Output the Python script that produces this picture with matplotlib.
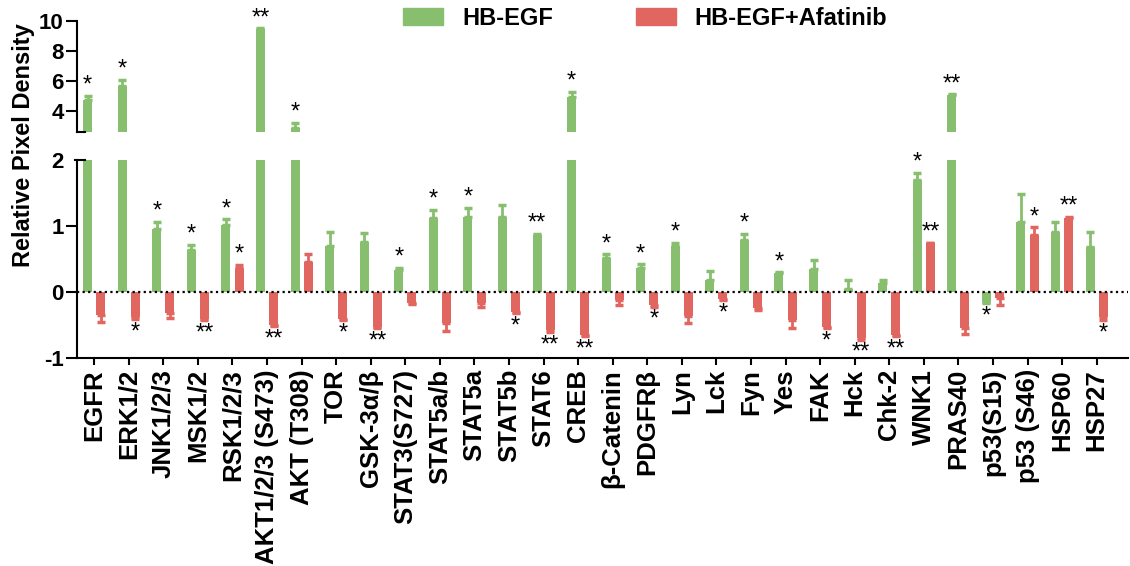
import numpy as np
import matplotlib
matplotlib.use('Agg')
import matplotlib.pyplot as plt
from matplotlib.patches import Patch

plt.rcParams['font.family'] = ['Liberation Sans', 'DejaVu Sans']

cats = ['EGFR', 'ERK1/2', 'JNK1/2/3', 'MSK1/2', 'RSK1/2/3', 'AKT1/2/3 (S473)', 'AKT (T308)', 'TOR',
        'GSK-3α/β', 'STAT3(S727)', 'STAT5a/b', 'STAT5a', 'STAT5b', 'STAT6', 'CREB', 'β-Catenin',
        'PDGFRβ', 'Lyn', 'Lck', 'Fyn', 'Yes', 'FAK', 'Hck', 'Chk-2', 'WNK1', 'PRAS40',
        'p53(S15)', 'p53 (S46)', 'HSP60', 'HSP27']

hb = [4.73, 5.67, 0.95, 0.64, 1.01, 9.47, 2.87, 0.70, 0.76, 0.33, 1.12, 1.14, 1.14, 0.86, 4.93,
      0.51, 0.36, 0.70, 0.18, 0.79, 0.29, 0.35, 0.04, 0.13, 1.70, 5.07, -0.15, 1.06, 0.91, 0.68]
hb_err = [0.30, 0.40, 0.11, 0.07, 0.09, 0.05, 0.33, 0.21, 0.13, 0.04, 0.12, 0.14, 0.18, 0.02, 0.34,
          0.06, 0.06, 0.05, 0.14, 0.09, 0.01, 0.13, 0.14, 0.05, 0.11, 0.03, 0.02, 0.42, 0.15, 0.23]
afa = [-0.35, -0.38, -0.32, -0.41, 0.36, -0.50, 0.45, -0.41, -0.53, -0.17, -0.47, -0.16, -0.30, -0.58, -0.65,
       -0.12, -0.20, -0.37, -0.10, -0.25, -0.42, -0.53, -0.70, -0.65, 0.74, -0.55, -0.09, 0.86, 1.12, -0.38]
afa_err = [0.10, 0.03, 0.07, 0.02, 0.05, 0.02, 0.13, 0.02, 0.02, 0.01, 0.12, 0.06, 0.02, 0.02, 0.02,
           0.08, 0.02, 0.10, 0.02, 0.02, 0.13, 0.02, 0.02, 0.02, 0.01, 0.09, 0.11, 0.12, 0.02, 0.05]

hb_sig = ['*', '*', '*', '*', '*', '**', '*', '', '', '*', '*', '*', '', '**', '*',
          '*', '*', '*', '', '*', '*', '', '', '', '*', '**', '*', '', '', '']
afa_sig = ['', '*', '', '**', '*', '**', '', '*', '**', '', '', '', '*', '**', '**',
           '', '*', '', '*', '', '', '*', '**', '**', '**', '', '', '*', '**', '*']

green = '#87BF6E'
red = '#E0665F'

fig = plt.figure(figsize=(11.3, 5.66), dpi=100)
ax_lo = fig.add_axes([0.0681, 0.3675, 0.9299, 0.3498])
ax_hi = fig.add_axes([0.0681, 0.7668, 0.9299, 0.1961])

x = np.arange(len(cats))
off = 0.19
w = 0.26


def draw(ax, vals, errs, pos, color):
    vals = np.array(vals)
    errs = np.array(errs)
    ax.bar(pos, vals, width=w, color=color, zorder=2)
    lower = np.where(vals < 0, errs, 0)
    upper = np.where(vals >= 0, errs, 0)
    ax.errorbar(pos, vals, yerr=[lower, upper], fmt='none', ecolor=color,
                elinewidth=2, capsize=3, capthick=2.5, zorder=2)


for ax in (ax_lo, ax_hi):
    draw(ax, hb, hb_err, x - off, green)
    draw(ax, afa, afa_err, x + off, red)
    ax.set_xlim(-0.5, 29.9)
    for s in ['top', 'right']:
        ax.spines[s].set_visible(False)
    ax.spines['left'].set_linewidth(1.5)
    ax.tick_params(axis='y', length=8, width=1.5, pad=1.5)

ax_lo.axhline(0, color='black', ls=(0, (1, 1.5)), lw=1.6, zorder=5)
ax_lo.set_ylim(-1, 2)
ax_lo.set_yticks([-1, 0, 1, 2])
ax_lo.set_yticklabels(['-1', '0', '1', '2'], fontweight='bold', fontsize=16)
ax_lo.yaxis.get_major_ticks()[-1].tick1line.set_visible(False)
ax_lo.spines['bottom'].set_linewidth(1.5)
ax_lo.set_xticks(x)
ax_lo.set_xticklabels(cats, rotation=90, fontsize=18.5, fontweight='bold')
ax_lo.tick_params(axis='x', length=5, width=1.5, pad=3)

ax_hi.set_ylim(2.6, 10)
ax_hi.set_yticks([4, 6, 8, 10])
ax_hi.set_yticklabels(['4', '6', '8', '10'], fontweight='bold', fontsize=16)
ax_hi.spines['bottom'].set_visible(False)
ax_hi.set_xticks([])

# break marks
ax_lo.plot([-0.002, 0.0076], [1, 1], transform=ax_lo.transAxes, color='black', lw=1.5, clip_on=False)
ax_hi.plot([0, 0.0076], [0, 0], transform=ax_hi.transAxes, color='black', lw=1.5, clip_on=False)

# significance stars
for vals, errs, sigs, pos in [(hb, hb_err, hb_sig, x - off), (afa, afa_err, afa_sig, x + off)]:
    for v, e, s, p in zip(vals, errs, sigs, pos):
        if not s:
            continue
        tip = v + e if v >= 0 else v - e
        ax = ax_hi if tip > 2.3 else ax_lo
        dy = 3 if v >= 0 else -14
        ax.annotate(s, (p, tip), xytext=(0, dy), textcoords='offset points',
                    ha='center', va='baseline', fontsize=17, annotation_clip=False)

fig.text(0.021, 0.744, 'Relative Pixel Density', rotation=90, fontsize=17,
         fontweight='bold', ha='center', va='center')

handles = [Patch(color=green), Patch(color=red)]
fig.legend(handles, ['HB-EGF', 'HB-EGF+Afatinib'], loc='center', bbox_to_anchor=(0.571, 0.968),
           ncol=2, frameon=False, prop={'weight': 'bold', 'size': 17},
           handlelength=1.7, handleheight=0.76, handletextpad=0.8, columnspacing=3.5)

fig.savefig('out.png', dpi=100)
